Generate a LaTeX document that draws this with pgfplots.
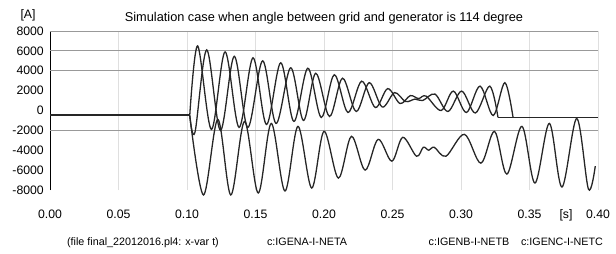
\documentclass[border=0pt]{standalone}
\usepackage{pgfplots}
\pgfplotsset{compat=1.18}
\usepackage{fontspec}
\setmainfont{Liberation Sans}
\begin{document}
\begin{tikzpicture}
\path[use as bounding box] (-50bp,-64bp) rectangle (566bp,190bp);
\begin{axis}[
  scale only axis, width=548bp, height=159bp,
  xmin=0, xmax=0.4, ymin=-8000, ymax=8000, clip=false,
  axis y line*=left, axis x line*=bottom,
  x axis line style={draw=none},
  y axis line style={black, line width=0.9bp},
  major tick length=0pt,
  xtick={0,0.05,0.1,0.15,0.2,0.25,0.3,0.35,0.4},
  xticklabels={0.00,0.05,0.10,0.15,0.20,0.25,0.30,0.35,0.40},
  ytick={-8000,-6000,-4000,-2000,0,2000,4000,6000,8000},
  yticklabels={-8000,-6000,-4000,-2000,0,2000,4000,6000,8000},
  xmajorgrids, major grid style={gray!25, line width=0.5bp},
  extra y ticks={-2000,4000,6000,8000},
  extra y tick labels={},
  extra y tick style={grid=major, major grid style={gray!80, line width=0.9bp}},
  tick label style={font=\fontsize{12.3}{14}\selectfont},
  xticklabel style={anchor=base, inner sep=0pt, yshift=-28bp},
  yticklabel style={anchor=east, inner sep=0pt, xshift=-6bp},
  every axis plot/.append style={black!85, line width=1.3bp},
]
% pre-switch baseline (all three phases)
\addplot[sharp plot, line width=2bp] coordinates {(0,-500) (0.102,-500)};
% phase A
\addplot[smooth, tension=0.55] coordinates {
(0.102,-500) (0.1078,6500) (0.1178,-1900) (0.1278,5900) (0.1380,-1700)
(0.1482,5300) (0.1580,-1400) (0.1684,4800) (0.1780,-1100) (0.1882,4250)
(0.1980,-700) (0.2075,3600) (0.2175,-200) (0.2275,2950) (0.2375,300)
(0.2465,2200) (0.2555,700) (0.2630,1500) (0.2690,1200) (0.2745,1450)
(0.2855,0) (0.2944,1950) (0.3040,-200) (0.3139,2450) (0.3235,-500)
(0.3320,2800) (0.3380,-700)};
% phase B
\addplot[smooth, tension=0.55] coordinates {
(0.102,-500) (0.1058,-2200) (0.1144,6100) (0.1244,-2000) (0.1345,5450)
(0.1444,-1700) (0.1552,5000) (0.1650,-1300) (0.1757,4300) (0.1850,-1000)
(0.1940,3750) (0.2040,-600) (0.2135,3250) (0.2235,-100) (0.2330,2800)
(0.2425,350) (0.2515,1800) (0.2595,900) (0.2665,1150) (0.2720,1000)
(0.2810,1650) (0.2905,-100) (0.3005,1950) (0.3105,-250) (0.3210,2450)
(0.3270,-700)};
% A and B after interruption
\addplot[sharp plot, line width=1.6bp] coordinates {(0.327,-700) (0.4,-700)};
% phase C
\addplot[smooth, tension=0.55] coordinates {
(0.102,-500) (0.1120,-8500) (0.1225,-900) (0.1320,-8500) (0.1420,-1100)
(0.1520,-8300) (0.1615,-1300) (0.1715,-8100) (0.1810,-1600) (0.1910,-7800)
(0.2000,-2100) (0.2105,-6800) (0.2200,-2600) (0.2300,-6000) (0.2395,-2900)
(0.2495,-5100) (0.2575,-2700) (0.2675,-4600) (0.2725,-3700) (0.2765,-4000)
(0.2805,-3700) (0.2890,-4600) (0.3025,-2400) (0.3145,-5300) (0.3245,-2100)
(0.3335,-6400) (0.3445,-1600) (0.3540,-7300) (0.3645,-1300) (0.3737,-7700)
(0.3845,-800) (0.3930,-7900) (0.3980,-5600)};
\end{axis}
\begin{scope}[every node/.style={inner sep=0pt}]
\node[anchor=base, font=\fontsize{12.8}{15}\selectfont] at (274bp,168bp) {Simulation case when angle between grid and generator is 114 degree};
\node[anchor=base, font=\fontsize{12.3}{14}\selectfont] at (-22bp,171bp) {[A]};
\node[anchor=base, font=\fontsize{12.3}{14}\selectfont] at (516bp,-28bp) {[s]};
\node[anchor=base, font=\fontsize{10.8}{12}\selectfont] at (93bp,-55bp) {(file final\_22012016.pl4: x-var t)};
\node[anchor=base, font=\fontsize{10.8}{12}\selectfont] at (257bp,-55bp) {c:IGENA-I-NETA};
\node[anchor=base, font=\fontsize{10.8}{12}\selectfont] at (419bp,-55bp) {c:IGENB-I-NETB};
\node[anchor=base, font=\fontsize{10.8}{12}\selectfont] at (512bp,-55bp) {c:IGENC-I-NETC};
\end{scope}
\end{tikzpicture}
\end{document}
